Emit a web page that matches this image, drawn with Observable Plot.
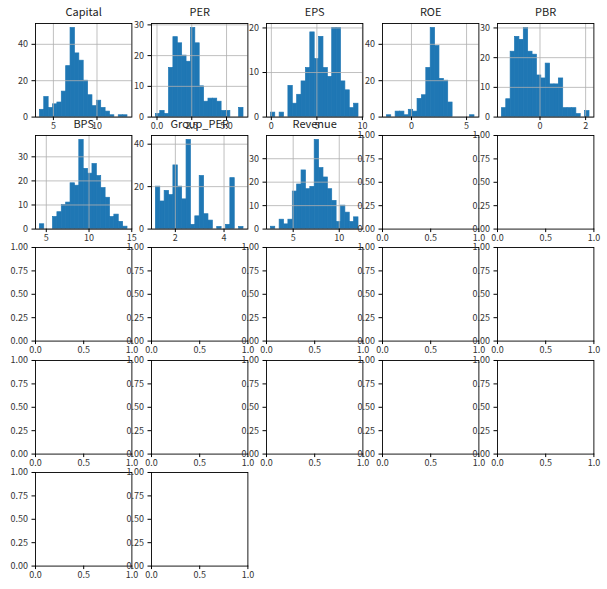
<!DOCTYPE html>
<html><head><meta charset="utf-8">
<script src="https://cdn.jsdelivr.net/npm/d3@7"></script>
<script src="https://cdn.jsdelivr.net/npm/@observablehq/plot@0.6"></script>
<style>
body{margin:0;background:#fff;}
#fig{position:relative;width:607px;height:589px;overflow:hidden;background:#fff;}
</style></head><body><div id="fig"></div>
<script>
// ---- data ----
const columns = ["Capital","PER","EPS","ROE","PBR","BPS","Group_PER","Revenue"];
const binLo = [3.45, -0.08, -0.05, -2.23, -1.67, 4.25, 1.20, 2.58];
const binHi = [13.5, 6.22, 9.57, 5.72, 2.17, 14.5, 4.80, 12.09];
const capitalCounts  = [4,11,5,7,8,14,28,49,35,31,20,12,6,9,5,3,1,0,1,1];
const perCounts      = [1,2,1,16,26,24,20,18,29,24,10,5,6,6,5,2,2,0,0,3];
const epsCounts      = [1,0,1,0,7,3,5,8,11,19,13,18,11,9,20,20,8,6,2,3];
const roeCounts      = [1,0,3,3,1,4,3,10,12,27,49,39,21,20,8,0,0,0,0,1];
const pbrCounts      = [3,6,22,27,26,30,22,21,14,13,18,11,11,13,3,3,3,1,0,2];
const bpsCounts      = [2,0,0,5,7,10,11,19,18,37,25,23,27,22,17,13,5,6,3,1];
const groupPerCounts = [20,13,18,16,30,20,14,42,2,6,25,7,4,0,1,0,2,24,0,1];
const revenueCounts  = [1,0,4,2,4,16,19,25,17,18,38,26,22,17,12,3,10,7,3,5];
const allCounts = [capitalCounts, perCounts, epsCounts, roeCounts, pbrCounts, bpsCounts, groupPerCounts, revenueCounts];
const xTickVals = [[5,10],[0,2.5,5],[0,5,10],[0,5],[0,2],[5,10,15],[2,4],[5,10]];
const xTickFmt  = ["d",".1f","d","d","d","d","d","d"];
const yTickVals = [[0,20,40],[0,10,20,30],[0,10,20],[0,20,40],[0,10,20,30],[0,10,20,30],[0,20,40],[0,10,20,30]];
const emptyXTicks = [0,0.5,1];
const emptyYTicks = [0,0.25,0.5,0.75,1];
const nPanels = 22;

// ---- layout ----
const colX0 = 35, colStep = 115.6, frameW = 96.4;
const rowY0 = 22.6, rowStep = 112.4, frameH = 93.6;
const ML = 40, MR = 14, MT = 26, MB = 22;
const FONT = "'Noto Sans CJK KR', 'Noto Sans', sans-serif";
const fig = document.getElementById("fig");

function axes(xt, xf, yt, yf) {
  return [
    Plot.axisX(xt, {tickSize: 3.5, tickPadding: 2, tickFormat: d3.format(xf), fontSize: 9, label: null, stroke: "#000", fill: "#333"}),
    Plot.axisY(yt, {tickSize: 3.5, tickPadding: 4, tickFormat: d3.format(yf), fontSize: 9, label: null, stroke: "#000", fill: "#333"})
  ];
}

for (let i = 0; i < nPanels; i++) {
  const c = i % 5, r = Math.floor(i / 5);
  const left = colX0 + c * colStep, top = rowY0 + r * rowStep;
  let marks, xDomain, yDomain;
  if (i < columns.length) {
    const lo = binLo[i], hi = binHi[i], counts = allCounts[i];
    const w = (hi - lo) / counts.length;
    const bins = counts.map((n, k) => ({x1: lo + k * w, x2: lo + (k + 1) * w, count: n})).filter(d => d.count > 0);
    const pad = (hi - lo) * 0.05;
    xDomain = [lo - pad, hi + pad];
    yDomain = [0, d3.max(counts) * 1.05];
    marks = [
      Plot.rectY(bins, {x1: "x1", x2: "x2", y: "count", fill: "#1f77b4", stroke: "#1f77b4", strokeWidth: 0.7}),
      Plot.gridX(xTickVals[i], {stroke: "#b0b0b0", strokeOpacity: 1, strokeWidth: 0.8}),
      Plot.gridY(yTickVals[i], {stroke: "#b0b0b0", strokeOpacity: 1, strokeWidth: 0.8}),
      Plot.frame({stroke: "#000", strokeWidth: 0.9}),
      ...axes(xTickVals[i], xTickFmt[i], yTickVals[i], "d"),
      Plot.text([columns[i]], {text: d => d, frameAnchor: "top", lineAnchor: "middle", dy: -11, fontSize: 11, fill: "#222"})
    ];
  } else {
    xDomain = [0, 1];
    yDomain = [0, 1];
    marks = [
      Plot.frame({stroke: "#000", strokeWidth: 0.9}),
      ...axes(emptyXTicks, ".1f", emptyYTicks, ".2f")
    ];
  }
  const svg = Plot.plot({
    width: frameW + ML + MR,
    height: frameH + MT + MB,
    marginLeft: ML, marginRight: MR, marginTop: MT, marginBottom: MB,
    x: {domain: xDomain},
    y: {domain: yDomain},
    style: {background: "transparent", overflow: "visible", position: "absolute", left: (left - ML) + "px", top: (top - MT) + "px", fontFamily: FONT, maxWidth: "none"},
    marks
  });
  fig.appendChild(svg);
}
</script></body></html>
